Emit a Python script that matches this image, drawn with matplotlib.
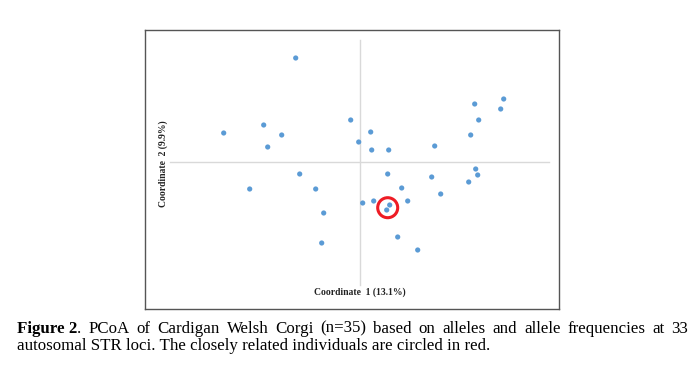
import numpy as np
import matplotlib
matplotlib.use('Agg')
import matplotlib.pyplot as plt
from matplotlib.patches import Circle

# PCoA coordinates (Coordinate 1, Coordinate 2)
coord1 = [-0.64, -1.36, -0.96, -0.78, -0.92, -0.09, -0.01, -0.60, 0.11, 0.12,
          0.29, 0.75, 1.15, 1.44, 1.41, 1.19, 1.11, 1.16, 1.18, 0.28,
          -1.10, -0.44, -0.36, -0.38, 0.72, 1.09, 0.42, 0.81, 0.03, 0.14,
          0.48, 0.30, 0.27, 0.38, 0.58]
coord2 = [1.04, 0.29, 0.37, 0.27, 0.15, 0.42, 0.20, -0.12, 0.30, 0.12,
          0.12, 0.16, 0.58, 0.63, 0.53, 0.42, 0.27, -0.07, -0.13, -0.12,
          -0.27, -0.27, -0.51, -0.81, -0.15, -0.20, -0.26, -0.32, -0.41, -0.39,
          -0.39, -0.43, -0.48, -0.75, -0.88]
# closely related pair (circled)
related_center = (0.28, -0.457)

xlabel = 'Coordinate  1 (13.1%)'
ylabel = 'Coordinate  2 (9.9%)'
caption1 = ['PCoA', 'of', 'Cardigan', 'Welsh', 'Corgi', '(n=35)', 'based', 'on',
            'alleles', 'and', 'allele', 'frequencies', 'at', '33']
caption2 = 'autosomal STR loci. The closely related individuals are circled in red.'

W, H = 698, 366
fig = plt.figure(figsize=(W / 100, H / 100), dpi=100)
fig.patch.set_facecolor('white')

# chart box in pixels
left, right, top, bottom = 145, 559, 29.7, 309.3
ax = fig.add_axes([left / W, 1 - bottom / H, (right - left) / W, (bottom - top) / H])
ax.set_xlim(-2.147, 1.993)
ax.set_ylim(-1.473, 1.323)
ax.set_xticks([])
ax.set_yticks([])
for s in ax.spines.values():
    s.set_color('#555555')
    s.set_linewidth(1.0)

# zero axes
ax.plot([-1.897, 1.893], [0, 0], color='#d9d9d9', lw=1.0, zorder=1)
ax.plot([0, 0], [-1.23, 1.22], color='#d9d9d9', lw=1.0, zorder=1)

ax.scatter(coord1, coord2, s=14, color='#5b9bd5', edgecolors='none', zorder=3)
ax.add_patch(Circle(related_center, 0.10, fill=False, edgecolor='#ee1c25', lw=2.2, zorder=4))

ax.text(0.0, -1.33, xlabel, ha='center', va='baseline', fontsize=6.9,
        fontweight='bold', family='Liberation Serif', color='#222222')
ax.text(-1.965, -0.02, ylabel, ha='center', va='center', rotation=90, fontsize=6.9,
        fontweight='bold', family='Liberation Serif', color='#222222')

# caption, first line justified
fs = 12.2
x0, x1 = 17, 688
y1, y2 = 332.7, 349.5
r = fig.canvas.get_renderer()
t_fig = fig.text(x0 / W, 1 - y1 / H, 'Figure 2', fontsize=fs, fontweight='bold',
                 family='Liberation Serif', va='baseline')
t_dot = fig.text(0, 1 - y1 / H, '.', fontsize=fs, family='Liberation Serif', va='baseline')
bb = t_fig.get_window_extent(r)
t_dot.set_x(bb.x1 / W)
start = bb.x1 + t_dot.get_window_extent(r).width
words = []
for w in caption1:
    t = fig.text(0, 1 - y1 / H, w, fontsize=fs, family='Liberation Serif', va='baseline')
    words.append((t, t.get_window_extent(r).width))
gap = (x1 - start - sum(wd for _, wd in words)) / len(words)
x = start + gap
for t, wd in words:
    t.set_x(x / W)
    x += wd + gap

fig.text(x0 / W, 1 - y2 / H, caption2, fontsize=fs, family='Liberation Serif', va='baseline')

fig.savefig('out.png', dpi=100)
